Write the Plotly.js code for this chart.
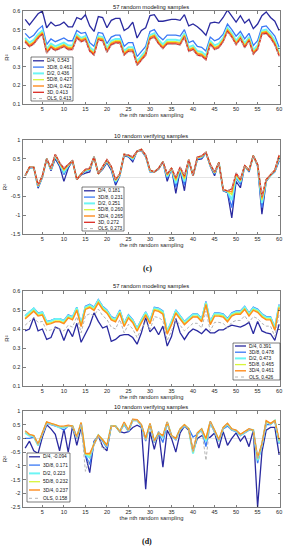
<!DOCTYPE html>
<html><head><meta charset="utf-8">
<script src="https://cdn.plot.ly/plotly-3.0.1.min.js"></script>
<style>html,body{margin:0;padding:0;background:#fff}#c{width:292px;height:550px}</style>
</head><body><div id="c"></div>
<script>
const sampling = Array.from({length:60},(_,i)=>i+1);
const xTicks = [5,10,15,20,25,30,35,40,45,50,55,60];

// ---- panel (c) modeling ----
const c1_D4  = [0.555,0.525,0.555,0.585,0.6,0.51,0.54,0.52,0.525,0.54,0.515,0.515,0.565,0.555,0.58,0.52,0.49,0.57,0.565,0.51,0.55,0.56,0.56,0.495,0.51,0.54,0.455,0.495,0.51,0.575,0.58,0.545,0.545,0.55,0.555,0.555,0.55,0.58,0.52,0.53,0.515,0.495,0.47,0.535,0.54,0.535,0.565,0.605,0.575,0.54,0.575,0.535,0.555,0.505,0.53,0.575,0.595,0.565,0.545,0.495];
const c1_3D8 = [0.48,0.455,0.47,0.5,0.52,0.42,0.45,0.435,0.445,0.455,0.44,0.44,0.495,0.48,0.485,0.43,0.41,0.485,0.48,0.425,0.46,0.47,0.47,0.41,0.43,0.43,0.355,0.38,0.41,0.49,0.5,0.465,0.445,0.47,0.47,0.47,0.465,0.5,0.43,0.44,0.41,0.405,0.385,0.46,0.44,0.45,0.475,0.53,0.5,0.465,0.49,0.45,0.48,0.415,0.44,0.515,0.52,0.495,0.465,0.405];
const c1_D2  = [0.455,0.43,0.445,0.475,0.495,0.395,0.425,0.41,0.42,0.43,0.415,0.415,0.475,0.455,0.465,0.405,0.385,0.465,0.46,0.4,0.44,0.45,0.45,0.385,0.405,0.405,0.33,0.355,0.385,0.47,0.48,0.445,0.42,0.445,0.445,0.445,0.44,0.48,0.405,0.415,0.385,0.38,0.36,0.44,0.415,0.425,0.455,0.51,0.48,0.44,0.47,0.425,0.46,0.39,0.415,0.495,0.5,0.475,0.44,0.38];
const c1_5D8 = [0.445,0.42,0.435,0.465,0.487,0.385,0.415,0.4,0.41,0.42,0.405,0.405,0.467,0.447,0.457,0.395,0.375,0.457,0.452,0.39,0.43,0.44,0.44,0.375,0.395,0.395,0.32,0.345,0.375,0.462,0.472,0.435,0.41,0.435,0.435,0.435,0.43,0.472,0.395,0.405,0.375,0.37,0.35,0.432,0.405,0.415,0.447,0.502,0.472,0.43,0.462,0.415,0.452,0.38,0.405,0.487,0.492,0.467,0.43,0.37];
const c1_3D4 = [0.44,0.415,0.43,0.46,0.482,0.38,0.41,0.395,0.405,0.415,0.4,0.4,0.462,0.442,0.452,0.39,0.37,0.452,0.447,0.385,0.425,0.435,0.435,0.37,0.39,0.39,0.315,0.34,0.37,0.457,0.467,0.43,0.405,0.43,0.43,0.43,0.425,0.467,0.39,0.4,0.37,0.365,0.345,0.427,0.4,0.41,0.442,0.497,0.467,0.425,0.457,0.41,0.447,0.375,0.4,0.482,0.487,0.462,0.425,0.365];
const c1_3D  = [0.433,0.408,0.423,0.453,0.475,0.373,0.403,0.388,0.398,0.408,0.393,0.393,0.455,0.435,0.445,0.383,0.363,0.445,0.44,0.378,0.418,0.428,0.428,0.363,0.383,0.383,0.308,0.333,0.363,0.45,0.46,0.423,0.398,0.423,0.423,0.423,0.418,0.46,0.383,0.393,0.363,0.358,0.338,0.42,0.393,0.403,0.435,0.49,0.46,0.418,0.45,0.403,0.44,0.368,0.393,0.475,0.48,0.455,0.418,0.358];
const c1_OLS = [0.43,0.405,0.42,0.45,0.472,0.37,0.4,0.385,0.395,0.405,0.39,0.39,0.452,0.432,0.442,0.38,0.36,0.442,0.437,0.375,0.415,0.425,0.425,0.36,0.38,0.38,0.305,0.33,0.36,0.447,0.457,0.42,0.395,0.42,0.42,0.42,0.415,0.457,0.38,0.39,0.36,0.355,0.335,0.417,0.39,0.4,0.432,0.487,0.457,0.415,0.447,0.4,0.437,0.365,0.39,0.472,0.477,0.452,0.415,0.355];

// ---- panel (c) verifying ----
const c2_D4  = [0.05,0.25,0.27,-0.28,0.0,0.5,0.18,0.5,0.3,-0.1,0.25,0.45,-0.05,0.07,0.12,0.15,0.55,0.1,0.22,0.4,0.2,-0.2,0.05,0.58,0.55,0.42,0.7,0.72,0.55,0.15,0.15,0.22,0.42,-0.1,0.25,-0.42,0.2,-0.35,0.45,0.05,0.48,0.5,0.65,0.3,0.05,0.4,-0.35,-0.4,-1.07,-0.1,-0.27,0.3,0.15,0.58,0.3,-0.97,-0.1,0.05,0.15,0.45];
const c2_3D8 = [0.05,0.26,0.27,-0.25,0.02,0.5,0.2,0.55,0.35,0.08,0.3,0.45,-0.05,0.08,0.16,0.2,0.55,0.1,0.25,0.43,0.25,-0.15,0.07,0.6,0.57,0.47,0.7,0.73,0.57,0.17,0.15,0.23,0.42,-0.02,0.25,-0.25,0.23,-0.2,0.46,0.05,0.5,0.53,0.66,0.32,0.1,0.4,-0.34,-0.38,-0.8,0.0,-0.18,0.31,0.17,0.58,0.32,-0.8,-0.08,0.06,0.17,0.5];
const c2_D2  = [0.05,0.27,0.27,-0.23,0.03,0.5,0.22,0.58,0.37,0.15,0.32,0.45,-0.05,0.09,0.18,0.22,0.55,0.1,0.27,0.45,0.27,-0.1,0.08,0.61,0.58,0.5,0.7,0.74,0.58,0.18,0.15,0.24,0.42,0.03,0.25,-0.15,0.25,-0.1,0.47,0.05,0.52,0.55,0.66,0.33,0.12,0.4,-0.33,-0.37,-0.6,0.05,-0.12,0.31,0.18,0.58,0.33,-0.68,-0.07,0.07,0.18,0.54];
const c2_5D8 = [0.05,0.275,0.27,-0.22,0.04,0.5,0.23,0.6,0.38,0.19,0.33,0.45,-0.05,0.095,0.2,0.23,0.55,0.1,0.28,0.46,0.28,-0.08,0.09,0.615,0.59,0.52,0.7,0.745,0.59,0.19,0.15,0.245,0.42,0.06,0.25,-0.08,0.26,-0.04,0.475,0.05,0.53,0.56,0.665,0.34,0.13,0.4,-0.325,-0.36,-0.45,0.08,-0.09,0.315,0.19,0.58,0.34,-0.6,-0.06,0.075,0.19,0.57];
const c2_3D4 = [0.05,0.278,0.27,-0.21,0.045,0.5,0.24,0.61,0.39,0.22,0.34,0.45,-0.05,0.1,0.21,0.24,0.55,0.1,0.29,0.47,0.29,-0.06,0.095,0.62,0.595,0.53,0.7,0.748,0.595,0.195,0.15,0.248,0.42,0.08,0.25,-0.04,0.27,0.0,0.478,0.05,0.54,0.57,0.668,0.345,0.14,0.4,-0.322,-0.355,-0.38,0.1,-0.07,0.318,0.195,0.58,0.345,-0.55,-0.055,0.078,0.195,0.585];
const c2_3D  = [0.05,0.28,0.27,-0.2,0.05,0.5,0.25,0.62,0.4,0.25,0.35,0.45,-0.05,0.1,0.22,0.25,0.55,0.1,0.3,0.48,0.3,-0.05,0.1,0.62,0.6,0.55,0.7,0.75,0.6,0.2,0.15,0.25,0.42,0.1,0.25,0.0,0.28,0.05,0.48,0.05,0.55,0.58,0.67,0.35,0.15,0.4,-0.32,-0.35,-0.3,0.12,-0.05,0.32,0.2,0.58,0.35,-0.5,-0.05,0.08,0.2,0.6];
const c2_OLS = [0.05,0.28,0.27,-0.2,0.05,0.5,0.25,0.62,0.4,0.26,0.35,0.45,-0.05,0.1,0.22,0.25,0.55,0.1,0.3,0.48,0.3,-0.04,0.1,0.62,0.6,0.56,0.7,0.75,0.6,0.2,0.15,0.25,0.42,0.11,0.25,0.01,0.28,0.06,0.48,0.05,0.55,0.58,0.67,0.35,0.15,0.4,-0.32,-0.35,-0.28,0.13,-0.04,0.32,0.2,0.58,0.35,-0.48,-0.05,0.08,0.2,0.6];

// ---- panel (d) modeling ----
const d1_D4  = [0.39,0.4,0.46,0.39,0.4,0.345,0.355,0.41,0.4,0.34,0.4,0.36,0.43,0.33,0.375,0.42,0.485,0.44,0.405,0.415,0.335,0.345,0.365,0.37,0.37,0.355,0.32,0.38,0.46,0.385,0.41,0.37,0.415,0.31,0.36,0.455,0.38,0.345,0.38,0.4,0.39,0.375,0.4,0.38,0.38,0.395,0.395,0.41,0.42,0.415,0.41,0.42,0.435,0.375,0.44,0.39,0.38,0.375,0.34,0.425];
const d1_3D8 = [0.47,0.49,0.51,0.485,0.49,0.44,0.445,0.455,0.455,0.445,0.475,0.465,0.515,0.43,0.52,0.53,0.515,0.555,0.52,0.5,0.465,0.455,0.5,0.43,0.475,0.45,0.405,0.45,0.49,0.445,0.515,0.51,0.495,0.39,0.44,0.5,0.47,0.44,0.46,0.48,0.48,0.455,0.545,0.44,0.485,0.485,0.48,0.455,0.485,0.495,0.495,0.52,0.485,0.515,0.505,0.48,0.465,0.465,0.41,0.53];
const d1_D2  = [0.468,0.487,0.508,0.48,0.487,0.437,0.442,0.452,0.452,0.442,0.47,0.462,0.512,0.425,0.515,0.525,0.51,0.55,0.515,0.495,0.46,0.45,0.495,0.425,0.47,0.445,0.4,0.446,0.487,0.44,0.51,0.505,0.49,0.385,0.436,0.495,0.466,0.436,0.456,0.476,0.476,0.45,0.54,0.436,0.48,0.48,0.476,0.45,0.48,0.49,0.49,0.515,0.48,0.51,0.5,0.476,0.46,0.46,0.405,0.525];
const d1_5D8 = [0.458,0.478,0.498,0.473,0.478,0.428,0.433,0.443,0.443,0.433,0.463,0.453,0.503,0.418,0.508,0.518,0.503,0.543,0.508,0.488,0.453,0.443,0.488,0.418,0.463,0.438,0.393,0.438,0.478,0.433,0.503,0.498,0.483,0.378,0.428,0.488,0.458,0.428,0.448,0.468,0.468,0.443,0.533,0.428,0.473,0.473,0.468,0.443,0.473,0.483,0.483,0.508,0.473,0.503,0.493,0.468,0.453,0.453,0.398,0.518];
const d1_3D4 = [0.453,0.473,0.493,0.468,0.473,0.423,0.428,0.438,0.438,0.428,0.458,0.448,0.498,0.413,0.503,0.513,0.498,0.538,0.503,0.483,0.448,0.438,0.483,0.413,0.458,0.433,0.388,0.433,0.473,0.428,0.498,0.493,0.478,0.373,0.423,0.483,0.453,0.423,0.443,0.463,0.463,0.438,0.528,0.423,0.468,0.468,0.463,0.438,0.468,0.478,0.478,0.503,0.468,0.498,0.488,0.463,0.448,0.448,0.393,0.513];
const d1_OLS = [0.42,0.44,0.46,0.435,0.44,0.39,0.395,0.405,0.4,0.39,0.42,0.41,0.465,0.38,0.47,0.48,0.47,0.505,0.47,0.45,0.41,0.4,0.45,0.38,0.425,0.4,0.355,0.4,0.44,0.395,0.465,0.46,0.445,0.34,0.39,0.45,0.42,0.39,0.41,0.43,0.43,0.405,0.495,0.39,0.435,0.435,0.43,0.405,0.435,0.445,0.445,0.47,0.435,0.465,0.455,0.43,0.415,0.415,0.36,0.48];

// ---- panel (d) verifying ----
const d2_D4  = [-0.35,-0.1,-0.45,-0.55,0.05,0.5,0.35,0.15,-0.45,0.35,-0.5,0.45,-0.25,0.4,-0.6,-1.25,-0.1,0.1,-0.3,-0.45,0.45,0.45,0.25,0.2,0.25,0.4,0.48,0.4,-1.85,0.25,-0.4,0.25,-1.05,0.3,0.0,-0.5,0.2,0.45,0.3,-0.5,0.0,0.1,0.0,0.05,0.2,-0.35,0.25,-0.25,0.0,0.2,-0.1,0.1,-0.3,0.3,-2.5,-0.5,0.3,0.4,0.4,-0.6];
const d2_3D8 = [0.0,0.0,0.05,-0.25,0.15,0.55,0.5,0.45,0.4,0.3,0.45,0.45,0.0,0.5,-0.6,-0.95,-0.15,0.1,-0.1,-0.35,0.45,0.45,0.25,0.5,0.25,0.65,0.65,0.45,-0.1,0.5,-0.15,0.2,-0.15,0.55,0.1,-0.05,0.3,0.45,0.35,0.05,0.15,0.3,-0.3,0.55,0.25,-0.1,0.35,0.45,0.3,0.25,0.1,0.2,0.3,0.3,-0.9,-0.25,0.5,0.5,0.65,-0.2];
const d2_D2  = [0.2,0.1,0.08,-0.25,0.18,0.58,0.52,0.48,0.4,0.4,0.45,0.45,0.03,0.55,-0.58,-0.7,-0.2,0.12,-0.05,-0.28,0.45,0.45,0.25,0.55,0.28,0.68,0.66,0.48,-0.05,0.52,-0.12,0.2,0.05,0.58,0.1,-0.02,0.33,0.48,0.35,-0.55,0.18,0.33,-0.1,0.6,0.28,-0.08,0.38,0.52,0.33,0.28,0.12,0.22,0.33,0.3,-0.8,-0.22,0.6,0.52,0.65,-0.15];
const d2_5D8 = [0.25,0.13,0.1,-0.22,0.2,0.6,0.54,0.5,0.43,0.43,0.47,0.45,0.04,0.57,-0.56,-0.6,-0.2,0.12,-0.05,-0.26,0.45,0.45,0.25,0.58,0.3,0.69,0.67,0.5,-0.02,0.54,-0.1,0.2,0.08,0.6,0.1,-0.01,0.34,0.5,0.35,-0.5,0.19,0.34,-0.03,0.61,0.29,-0.06,0.39,0.54,0.34,0.29,0.14,0.24,0.34,0.3,-0.75,-0.21,0.63,0.54,0.65,-0.1];
const d2_3D4 = [0.28,0.15,0.1,-0.2,0.2,0.6,0.55,0.5,0.45,0.45,0.48,0.45,0.05,0.58,-0.55,-0.55,-0.2,0.12,-0.05,-0.25,0.45,0.45,0.25,0.6,0.3,0.7,0.68,0.5,0.0,0.55,-0.1,0.2,0.1,0.6,0.1,0.0,0.35,0.5,0.35,-0.45,0.2,0.35,0.0,0.62,0.3,-0.05,0.4,0.55,0.35,0.3,0.15,0.25,0.35,0.3,-0.7,-0.2,0.65,0.55,0.65,-0.05];
const d2_OLS = [0.25,0.12,0.08,-0.25,0.15,0.55,0.52,0.48,0.42,0.42,0.45,0.45,0.0,0.55,-1.2,-0.75,-0.25,0.1,-0.4,-0.35,0.45,0.45,0.25,0.55,0.28,0.68,0.66,0.48,-0.1,0.5,-0.15,0.2,0.05,0.58,0.1,-0.05,0.32,0.48,0.35,-0.5,0.18,0.33,-0.8,0.6,0.28,-0.1,0.38,0.52,0.32,0.28,0.12,0.22,0.32,0.3,-0.75,-0.25,0.6,0.5,0.62,-0.15];

const names7 = ['D/4','3D/8','D/2','5D/8','3D/4','3D','OLS'];
const names6 = ['D/4','3D/8','D/2','5D/8','3D/4','OLS'];
const legC1 = ['D/4, 0.543','3D/8, 0.461','D/2, 0.436','5D/8, 0.427','3D/4, 0.422','3D, 0.413','OLS, 0.413'];
const legC2 = ['D/4, 0.181','3D/8, 0.231','D/2, 0.251','5D/8, 0.260','3D/4, 0.265','3D, 0.272','OLS, 0.273'];
const legD1 = ['D/4, 0.391','3D/8, 0.478','D/2, 0.473','5D/8, 0.465','3D/4, 0.461','OLS, 0.426'];
const legD2 = ['D/4, -0.094','3D/8, 0.171','D/2, 0.223','5D/8, 0.232','3D/4, 0.237','OLS, 0.158'];
const panelTitles = ['57 random modeling samples','10 random verifying samples','57 random modeling samples','10 random verifying samples'];
const xTitle = 'the nth random sampling';
const yTitle = 'R²';
const subLabels = ['(c)','(d)'];

const styleOf = {
  'D/4':  {color:'#2a2aa0', width:1.3, dash:'solid'},
  '3D/8': {color:'#3a78f5', width:1.3, dash:'solid'},
  'D/2':  {color:'#6cf5f5', width:2.0, dash:'solid'},
  '5D/8': {color:'#d8f53a', width:1.3, dash:'solid'},
  '3D/4': {color:'#ff8c1e', width:1.4, dash:'solid'},
  '3D':   {color:'#dc2a22', width:1.3, dash:'solid'},
  'OLS':  {color:'#b4b4b4', width:1.0, dash:'3px,2px'}
};

const W = 292, H = 550;
const px = v => v / W, py = v => 1 - v / H;

const panels = [
  {series:[c1_D4,c1_3D8,c1_D2,c1_5D8,c1_3D4,c1_3D,c1_OLS], names:names7, leg:legC1, top:11, bot:104, range:[0.1,0.6], tv:[0.1,0.2,0.3,0.4,0.5,0.6], tt:['0.1','0.2','0.3','0.4','0.5','0.6'],
   lg:{x0:31,x1:73,y0:57,y1:101,first:60.8,step:6.3,lx0:33,lx1:44,tx:45}},
  {series:[c2_D4,c2_3D8,c2_D2,c2_5D8,c2_3D4,c2_3D,c2_OLS], names:names7, leg:legC2, top:140, bot:234, range:[-1.5,1], tv:[-1.5,-1,-0.5,0,0.5,1], tt:['-1.5','-1','-0.5','0','0.5','1'],
   lg:{x0:82,x1:124,y0:187,y1:231,first:190.8,step:6.3,lx0:84,lx1:95,tx:96}},
  {series:[d1_D4,d1_3D8,d1_D2,d1_5D8,d1_3D4,d1_OLS], names:names6, leg:legD1, top:291, bot:386, range:[0.1,0.6], tv:[0.1,0.2,0.3,0.4,0.5,0.6], tt:['0.1','0.2','0.3','0.4','0.5','0.6'],
   lg:{x0:233,x1:280,y0:343,y1:380,first:346,step:6.2,lx0:235,lx1:246,tx:247}},
  {series:[d2_D4,d2_3D8,d2_D2,d2_5D8,d2_3D4,d2_OLS], names:names6, leg:legD2, top:411, bot:507, range:[-2.5,1], tv:[-2.5,-2,-1.5,-1,-0.5,0,0.5,1], tt:['-2.5','-2','-1.5','-1','-0.5','0','0.5','1'],
   lg:{x0:27,x1:70,y0:453,y1:502,first:456.8,step:8.3,lx0:29,lx1:40,tx:41}}
];
const titleY = [7, 136, 286, 407];
const subY = [268, 541];

const FONT = 'Liberation Sans, Arial, sans-serif';
const AX = '#262626';
const traces = [], shapes = [], annotations = [];
const layout = {width:W, height:H, margin:{l:0,r:0,t:0,b:0}, paper_bgcolor:'#fff', plot_bgcolor:'#fff', showlegend:false, font:{family:FONT, size:5.5, color:AX}};

panels.forEach((p, i) => {
  const k = i === 0 ? '' : String(i + 1);
  p.series.forEach((ys, j) => {
    const s = styleOf[p.names[j]];
    traces.push({type:'scatter', mode:'lines', x:sampling, y:ys, name:p.leg[j], xaxis:'x'+k, yaxis:'y'+k,
      line:{color:s.color, width:s.width, dash:s.dash}, hoverinfo:'skip'});
  });
  const common = {showline:true, mirror:'ticks', linecolor:AX, linewidth:0.6, ticks:'inside', ticklen:2.5, tickwidth:0.6, tickcolor:AX, showgrid:false,
    tickfont:{family:FONT, size:5.5, color:AX}, automargin:false};
  layout['xaxis'+k] = Object.assign({}, common, {domain:[px(23), px(280)], anchor:'y'+k, range:[0.5,60.2], tickmode:'array', tickvals:xTicks, ticktext:xTicks.map(String), zeroline:false, ticklabelstandoff:0,
    title:{text:xTitle, font:{family:FONT, size:5.8, color:AX}, standoff:1}});
  layout['yaxis'+k] = Object.assign({}, common, {domain:[py(p.bot), py(p.top)], anchor:'x'+k, range:p.range, tickmode:'array', tickvals:p.tv, ticktext:p.tt,
    zeroline:true, zerolinecolor:'#d2d2d2', zerolinewidth:0.6, ticklabelstandoff:1,
    title:{text:yTitle, font:{family:FONT, size:6, color:AX}, standoff:2}});
  annotations.push({xref:'paper', yref:'paper', x:px(151), y:py(titleY[i]), text:panelTitles[i], showarrow:false, font:{family:FONT, size:5.8, color:'#111'}, xanchor:'center', yanchor:'middle'});
  // legend box
  const L = p.lg;
  shapes.push({type:'rect', xref:'paper', yref:'paper', x0:px(L.x0), x1:px(L.x1), y0:py(L.y1), y1:py(L.y0), fillcolor:'#fff', line:{color:AX, width:0.6}, layer:'above'});
  p.names.forEach((n, j) => {
    const s = styleOf[n];
    const yy = py(L.first + j * L.step);
    shapes.push({type:'line', xref:'paper', yref:'paper', x0:px(L.lx0), x1:px(L.lx1), y0:yy, y1:yy, line:{color:s.color, width:s.width, dash:s.dash==='solid'?'solid':'dot'}, layer:'above'});
    annotations.push({xref:'paper', yref:'paper', x:px(L.tx), y:yy, text:p.leg[j], showarrow:false, xanchor:'left', yanchor:'middle', font:{family:FONT, size:4.8, color:'#111'}});
  });
});
subLabels.forEach((t, i) => {
  annotations.push({xref:'paper', yref:'paper', x:px(147), y:py(subY[i]), text:t, showarrow:false, font:{family:'Liberation Serif, Times New Roman, serif', size:8, color:'#111', weight:'bold'}, xanchor:'center', yanchor:'middle'});
});
layout.shapes = shapes;
layout.annotations = annotations;
Plotly.newPlot('c', traces, layout, {staticPlot:true, displayModeBar:false});
</script></body></html>
